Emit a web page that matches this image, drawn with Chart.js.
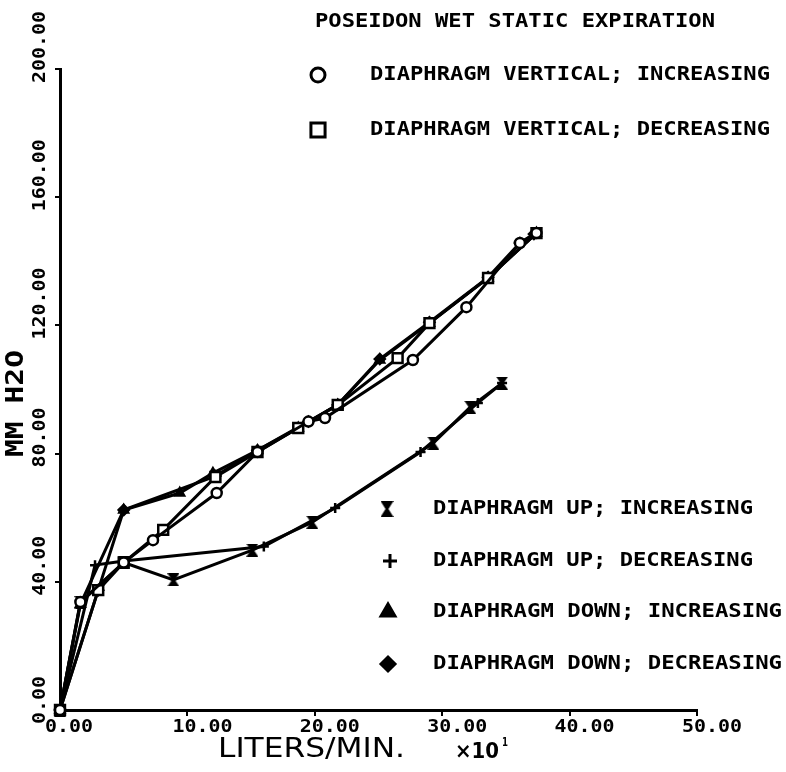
<!DOCTYPE html>
<html>
<head>
<meta charset="utf-8">
<script src="https://cdn.jsdelivr.net/npm/chart.js@4"></script>
<style>
  body { margin: 0; background: #fff; }
</style>
</head>
<body>
<canvas id="canvas" width="786" height="772"></canvas>
<script>
// axis ticks
const xTicks = [0, 10, 20, 30, 40, 50]
const xTickLabels = ['0.00', '10.00', '20.00', '30.00', '40.00', '50.00']
const yTicks = [0, 40, 80, 120, 160, 200]
const yTickLabels = ['0.00', '40.00', '80.00', '120.00', '160.00', '200.00']

const chartTitle = 'POSEIDON WET STATIC EXPIRATION'
const seriesNames = [
  'DIAPHRAGM VERTICAL; INCREASING',
  'DIAPHRAGM VERTICAL; DECREASING',
  'DIAPHRAGM UP; INCREASING',
  'DIAPHRAGM UP; DECREASING',
  'DIAPHRAGM DOWN; INCREASING',
  'DIAPHRAGM DOWN; DECREASING'
]

// liters/min x10 vs mm H2O
const vertIncX = [0, 1.6, 5.0, 7.3, 12.3, 15.5, 19.5, 20.8, 27.7, 31.9, 36.1, 37.4]
const vertIncY = [0, 33.7, 46.0, 53.0, 67.7, 80.5, 90.0, 91.1, 109.2, 125.7, 145.7, 148.8]

const vertDecX = [37.4, 33.6, 29.0, 26.5, 21.8, 18.7, 15.5, 12.2, 8.1, 5.0, 3.0, 0]
const vertDecY = [148.8, 134.8, 120.7, 109.8, 95.2, 88.0, 80.5, 72.7, 56.2, 46.0, 37.4, 0]

const upIncX = [0, 1.6, 5.0, 8.9, 15.1, 19.8, 29.3, 32.2, 34.7]
const upIncY = [0, 33.5, 46.0, 40.6, 49.9, 58.6, 83.3, 94.5, 102.0]

const upDecX = [34.7, 32.8, 28.3, 21.6, 16.0, 5.0, 2.75, 0]
const upDecY = [102.0, 95.8, 80.5, 63.0, 51.0, 46.5, 45.2, 0]

const downIncX = [0, 1.6, 5.0, 9.4, 12.0, 15.5, 18.7, 21.8, 25.1, 29.0, 33.6, 37.4]
const downIncY = [0, 33.0, 62.4, 67.7, 73.9, 81.0, 88.0, 95.2, 109.2, 120.7, 134.8, 148.8]

const downDecX = [37.2, 36.1, 33.6, 29.0, 25.1, 21.8, 19.5, 15.5, 12.2, 5.0, 3.0, 0]
const downDecY = [148.5, 145.7, 135.0, 121.0, 109.5, 95.2, 90.0, 81.0, 73.0, 62.4, 37.4, 0]

function pts(xs, ys) {
  return xs.map((x, i) => ({x: x, y: ys[i]}))
}

// hourglass marker, no built-in style for it
function hourglass(w, h) {
  const c = document.createElement('canvas')
  c.width = w
  c.height = h
  const g = c.getContext('2d')
  g.fillStyle = '#000'
  g.beginPath()
  g.moveTo(0, 0); g.lineTo(w, 0); g.lineTo(w / 2 + 1.5, h / 2)
  g.lineTo(w, h); g.lineTo(0, h); g.lineTo(w / 2 - 1.5, h / 2)
  g.closePath()
  g.fill()
  return c
}
const hourglassImg = hourglass(12, 13)
const hourglassBig = hourglass(13, 16)

const styles = [
  {pointStyle: 'circle', bg: '#fff', lr: 7},
  {pointStyle: 'rect', bg: '#fff', lr: 10},
  {pointStyle: hourglassImg, bg: '#000', lr: 7},
  {pointStyle: 'cross', bg: '#000', lr: 7},
  {pointStyle: 'triangle', bg: '#000', lr: 8},
  {pointStyle: 'rectRot', bg: '#000', lr: 7}
]
const seriesData = [
  pts(vertIncX, vertIncY), pts(vertDecX, vertDecY),
  pts(upIncX, upIncY), pts(upDecX, upDecY),
  pts(downIncX, downIncY), pts(downDecX, downDecY)
]

function fitText(ctx, str, x, y, w, font) {
  ctx.font = font
  ctx.textAlign = 'left'
  ctx.textBaseline = 'middle'
  const m = ctx.measureText(str).width
  ctx.save()
  ctx.translate(x, y)
  ctx.scale(w / m, 1)
  ctx.fillText(str, 0, 0)
  ctx.restore()
}

const MONO = 'bold 20px "DejaVu Sans Mono"'
const TICKFONT = 'bold 18px "DejaVu Sans Mono"'

const textPlugin = {
  id: 'plotText',
  afterDraw(chart) {
    const ctx = chart.ctx
    const xs = chart.scales.x
    const ys = chart.scales.y
    ctx.save()
    ctx.fillStyle = '#000'
    ctx.strokeStyle = '#000'

    // tick labels
    xTicks.forEach((v, i) => {
      const s = xTickLabels[i]
      fitText(ctx, s, xs.getPixelForValue(v) - 15, 727, s.length * 12, TICKFONT)
    })
    yTicks.forEach((v, i) => {
      const s = yTickLabels[i]
      ctx.save()
      ctx.translate(40, ys.getPixelForValue(v) + 14)
      ctx.rotate(-Math.PI / 2)
      fitText(ctx, s, 0, 0, s.length * 12, TICKFONT)
      ctx.restore()
    })

    // axis titles
    fitText(ctx, 'LITERS/MIN.', 218, 750, 187, '27px "DejaVu Sans"')
    fitText(ctx, '×10', 455, 752, 44, 'bold 22px "DejaVu Sans"')
    fitText(ctx, '1', 502, 743, 6, 'bold 13px "DejaVu Sans"')
    ctx.save()
    ctx.translate(17, 457)
    ctx.rotate(-Math.PI / 2)
    fitText(ctx, 'MM H2O', 0, 0, 107, 'bold 24px "DejaVu Sans Mono"')
    ctx.restore()

    // title and legend
    fitText(ctx, chartTitle, 315, 22, 400, MONO)
    const legendPos = [
      {mx: 318, my: 75, tx: 370, w: 400},
      {mx: 318, my: 130, tx: 370, w: 400},
      {mx: 387, my: 509, tx: 433, w: 320},
      {mx: 390, my: 561, tx: 433, w: 320},
      {mx: 388, my: 612, tx: 433, w: 349},
      {mx: 388, my: 664, tx: 433, w: 349}
    ]
    legendPos.forEach((p, i) => {
      ctx.fillStyle = styles[i].bg
      ctx.strokeStyle = '#000'
      ctx.lineWidth = 3
      const ps = i === 2 ? hourglassBig : styles[i].pointStyle
      Chart.helpers.drawPoint(ctx, {pointStyle: ps, radius: styles[i].lr, rotation: 0, borderWidth: 3}, p.mx, p.my)
      ctx.fillStyle = '#000'
      fitText(ctx, seriesNames[i], p.tx, p.my, p.w, MONO)
    })
    ctx.restore()
  }
}

const ctx = document.getElementById('canvas')
new Chart(ctx, {
  type: 'scatter',
  data: {
    datasets: seriesData.map((d, i) => ({
      label: seriesNames[i],
      data: d,
      showLine: true,
      borderColor: '#000',
      borderWidth: 3,
      pointStyle: styles[i].pointStyle,
      pointRadius: i === 1 ? 7 : 5,
      pointBackgroundColor: styles[i].bg,
      pointBorderColor: '#000',
      pointBorderWidth: 2.5,
      tension: 0,
      clip: false
    }))
  },
  options: {
    responsive: false,
    animation: false,
    layout: { autoPadding: false, padding: { top: 69, right: 89, left: 0, bottom: 0 } },
    plugins: { legend: { display: false }, tooltip: { enabled: false } },
    scales: {
      x: {
        type: 'linear', min: 0, max: 50,
        afterBuildTicks: s => { s.ticks = xTicks.map(v => ({value: v})) },
        afterFit: s => { s.height = 62 },
        ticks: { display: false },
        grid: { drawOnChartArea: false, drawTicks: true, tickLength: 6, lineWidth: 2, color: '#000' },
        border: { display: true, width: 3, color: '#000' }
      },
      y: {
        type: 'linear', min: 0, max: 200,
        afterBuildTicks: s => { s.ticks = yTicks.map(v => ({value: v})) },
        afterFit: s => { s.width = 60 },
        ticks: { display: false },
        grid: { drawOnChartArea: false, drawTicks: true, tickLength: 5, lineWidth: 2, color: '#000' },
        border: { display: true, width: 3, color: '#000' }
      }
    }
  },
  plugins: [textPlugin]
})
</script>
</body>
</html>
